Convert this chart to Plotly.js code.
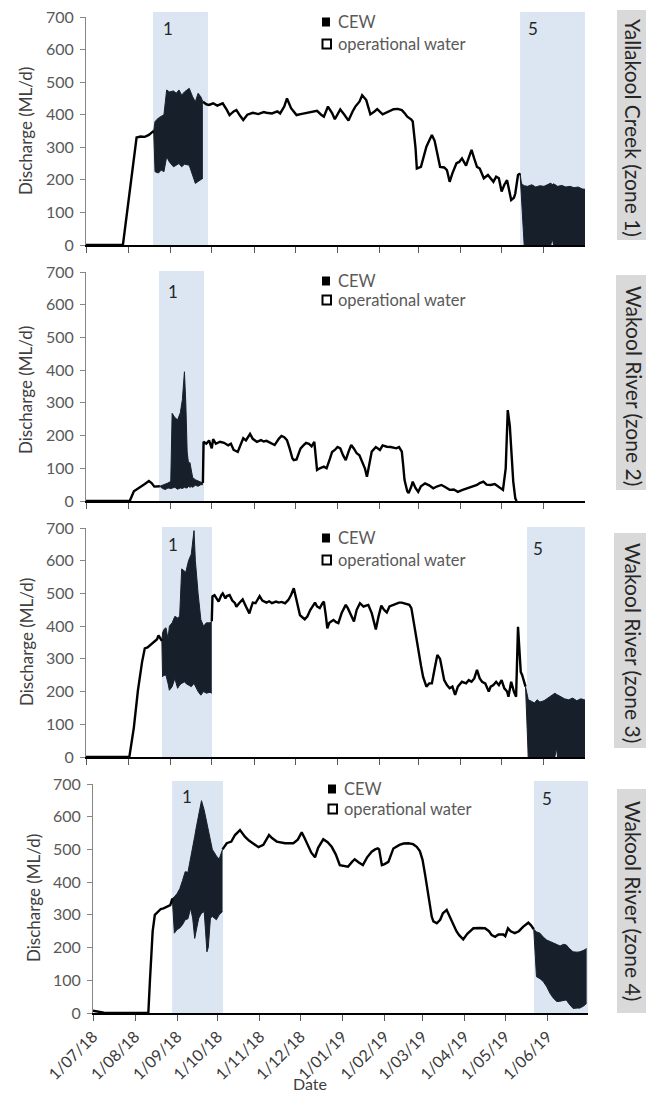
<!DOCTYPE html>
<html><head><meta charset="utf-8">
<script src="https://cdn.plot.ly/plotly-3.0.1.min.js"></script>
<style>html,body{margin:0;padding:0;background:#fff;}#chart{width:646px;height:1095px;}</style>
</head><body><div id="chart"></div>
<script>
// ---------- DATA (days since 1 Jul 2018, discharge ML/d) ----------
const tickDates = ['2018-07-01','2018-08-01','2018-09-01','2018-10-01','2018-11-01','2018-12-01','2019-01-01','2019-02-01','2019-03-01','2019-04-01','2019-05-01','2019-06-01'];
const tickLabels = ['1/07/18','1/08/18','1/09/18','1/10/18','1/11/18','1/12/18','1/01/19','1/02/19','1/03/19','1/04/19','1/05/19','1/06/19'];
const panelNames = ['Yallakool Creek (zone 1)','Wakool River (zone 2)','Wakool River (zone 3)','Wakool River (zone 4)'];
const legendNames = ['CEW','operational water'];
const yTitle = 'Discharge (ML/d)';
const xTitle = 'Date';

// Yallakool Creek (zone 1)
const yk_days = [0,27,37,40,43,46,48,49.5,null,85.5,88,90,93,96,100,103,105,108,110,113,115,118,122,126,130,132,136,140,142,145,147,150,154,157,161,165,169,172,174,177,180,182,186,189,192,195,197,200,202,205,208,211,213,217,221,225,228,231,233,235,238,239,241,242,245,247,249,251,253,255,256,259,262,264,266,268,271,273,275,278,280,282,284,286,288,291,294,296,298,300,302,304,306,308,310,311,313,314,316,317.5];
const yk_flow = [0,0,330,333,332,338,345,350,null,440,432,430,435,428,435,415,399,410,414,395,384,400,406,402,408,406,404,410,404,425,450,420,399,402,406,410,412,400,394,425,405,386,416,400,382,410,425,440,460,445,401,410,417,401,410,417,418,414,405,394,385,379,300,235,240,270,302,320,338,320,302,240,238,230,194,220,251,255,266,244,268,292,265,240,235,205,215,205,194,210,205,164,185,199,160,138,145,158,215,220];
const yk_c1_days = [49.5,50.5,53,55,57,59,61,64,66,68,70,72,75.5,78,80,82,84,85.5];
const yk_c1_hi = [350,379,390,394,400,476,470,473,466,476,460,470,481,455,440,466,455,440];
const yk_c1_lo = [350,225,221,230,225,271,255,240,245,250,240,248,245,215,189,195,200,205];
const yk_c5_days = [317.5,318.5,319.5,320.5,323,326,329,332,335,338,340,341,342,345,348,351,354,357,360,363,365];
const yk_c5_hi = [220,190,185,182,180,185,178,182,180,186,190,185,188,180,183,178,180,176,178,172,171];
const yk_c5_lo = [220,140,40,0,0,0,0,0,0,0,0,20,0,0,0,0,0,0,0,0,0];

// Wakool River (zone 2)
const wk2_days = [0,32,35,37,40,43,46,48,50,52,54,null,85.5,86,88,90,92,93,95,98,101,104,106,108,111,113,115,117,120,122,125,128,130,132,135,138,141,143,145,147,149,151,152,154,156,157,159,161,163,165,167,168,169,171,174,176,177,178.5,180,182,184,186,188,190,192,194,196,198,200,202,204,205.5,207,209,212,215,217,220,223,227,229,231,232,233,235,236,238,239,241,243,245,248,251,254,257,260,263,266,269,272,275,279,282,286,288,290.7,293,296,299,302,305,307,308.5,310,311,312.5,314,315];
const wk2_flow = [0,0,30,35,45,52,61,55,44,45,45,null,55,181,175,185,161,189,175,181,178,170,175,156,150,170,192,185,205,190,181,186,182,184,178,171,190,199,195,186,160,130,125,127,150,161,170,178,175,167,181,140,95,100,105,100,110,130,150,156,165,161,140,125,150,171,160,146,140,120,100,74,110,151,165,156,170,166,165,161,165,151,110,64,30,24,45,59,40,28,45,54,48,39,45,49,42,34,35,28,33,39,45,49,55,59,50,49,52,44,34,100,278,230,166,60,8,0];
const wk2_c1_days = [54,56,58,60,62,63,65,67,69,70.5,72,73,74,75,76,77,78,80,82,84,85.5];
const wk2_c1_hi = [45,48,50,55,60,268,255,248,270,310,395,300,150,115,118,90,72,65,62,58,55];
const wk2_c1_lo = [45,38,35,40,38,40,42,36,40,38,42,40,40,45,42,44,42,48,45,50,50];

// Wakool River (zone 3)
const wk3_days = [0,31.7,35,38,41,43,45,48,50,52,53,54,55.5,null,92,92.5,94,96,97,99,100,102,103,105,107,109,110,112,114.6,117,119.5,121,122,124,127,129,132,134,136,139,141,143,145.6,148,150,152,154,156.5,158,160,162,164,166,167.5,169,171,173,174,175.5,176.5,178,181,183,184.6,187,190,191.5,193,196,198,200.4,203,206.5,209,212,214,216,218,220,222,224.8,227,229,231,233,236.5,238,239,241,243,245,246.6,249,251,253,255,257,259,260,262,264,266,268,270,272,275,278,280,282,284,286,288,289.7,292,294.6,296,298,300,302,304,306,308,309,311,313,314.6,316,317,318,319,320,321.5];
const wk3_flow = [0,0,90,204,290,332,335,345,352,360,372,365,355,null,415,491,495,480,475,495,500,485,492,495,478,470,459,470,482,460,439,460,472,470,492,478,472,476,470,475,472,474,470,480,495,516,480,434,428,421,430,449,462,472,460,455,470,475,430,393,410,419,412,409,440,465,455,441,414,450,470,460,465,440,390,430,463,450,442,460,465,470,472,472,470,465,455,429,380,332,280,245,215,225,225,270,312,300,280,235,220,210,215,190,215,230,225,235,230,240,266,240,230,225,200,215,220,230,220,235,210,200,184,230,200,184,398,320,260,251,235,215];
const wk3_c1_days = [55.5,56,57,58.5,60,61,63,65,67,68.5,70,72,73,75,77,79,80,82,84,86,88,90.7,92];
const wk3_c1_hi = [355,380,390,395,360,400,410,430,425,430,575,570,565,600,620,692,600,500,420,400,410,410,415];
const wk3_c1_lo = [355,245,250,250,225,204,215,240,210,220,225,230,225,220,215,225,215,200,189,200,195,198,195];
const wk3_c5_days = [321.5,322.5,323.5,326,328,330,332,335,338,341,343,344,345,347,350,353,356,359,362,365];
const wk3_c5_hi = [215,190,175,170,165,175,168,172,180,190,195,192,190,185,178,175,180,172,178,174];
const wk3_c5_lo = [215,120,0,0,0,0,0,0,0,0,0,28,0,0,0,0,0,0,0,0];

// Wakool River (zone 4)
const wk4_days = [0,4,8,20,40.8,42,43,44,45.6,48,50,52,55,57,58.5,null,95.5,96,98.6,102,104.7,108.4,112,115,117,120,122,125.6,129.8,132,135.5,141.6,147.7,151,153.9,156,158.8,161,163.7,166,169.8,173,176,179,182,185,188,191,193,196,199,202,205.5,208,210,211,213,215,217.8,221.5,226,229,232.5,236,238.7,241,243,245,247,249.8,251,253.5,256,258,260.8,263,265.7,268,270,273,276,280.5,285,289,292,294,296.5,299,302.6,304,306,308,311,314,317.3,321,323,325];
const wk4_flow = [7,4,1,0,0,100,200,250,300,310,318,320,325,330,350,null,500,503,519,524,544,559,539,527,521,512,507,514,544,535,524,519,519,530,552,535,508,490,476,505,531,522,508,485,452,449,447,462,470,460,452,475,493,500,503,500,452,455,462,503,514,518,519,516,508,495,468,420,366,294,280,274,285,305,315,295,269,250,238,225,242,259,260,259,250,238,233,240,240,235,259,250,244,250,264,276,268,256];
const wk4_c1_days = [58.5,60,62,64,66,68,70,72,73.5,75,76.5,78,80,82,83,84,85,86.6,88,91,93,95.5];
const wk4_c1_hi = [350,355,365,380,405,432,430,470,500,540,575,605,649,620,600,580,550,520,500,480,470,500];
const wk4_c1_lo = [350,244,255,260,270,285,288,320,290,228,260,290,305,310,250,187,200,290,295,285,300,310];
const wk4_c5_days = [325,326,327,329.6,332,334.6,337,339.5,342,344.4,347,349,351,354,357,359,362,364];
const wk4_c5_hi = [256,252,248,244,232,223,218,213,210,205,210,208,198,187,186,187,192,197];
const wk4_c5_lo = [256,180,111,105,96,80,60,45,35,36,38,40,28,14,15,15,22,30];

// watering action windows (days since 1 Jul 2018)
const actionDays = [
  [[49,89.2],[317.5,365]],
  [[53.4,86.3]],
  [[55.6,92.2],[322.6,365]],
  [[58.3,95.9],[325.2,365]]
];
const actionLabels = [['1','5'],['1'],['1','5'],['1','5']];

// ---------- BUILD ----------
const DAY0 = Date.UTC(2018,6,1);
function toDate(d){ if(d===null) return null; return new Date(DAY0 + d*86400000).toISOString().slice(0,16).replace('T',' '); }
const W = 646, H = 1095;
const X = px => px/W, Y = py => 1 - py/H;

const panels = [
  {main:[yk_days,yk_flow], cew:[[yk_c1_days,yk_c1_hi,yk_c1_lo],[yk_c5_days,yk_c5_hi,yk_c5_lo]],
   xd:[86,585], yd:[17,245], shadeTop:1.022, lab:[[168,28],[533,28]],
   leg:{sx:322, tx:336, y1:22, y2:44}, box:[617,10,240], boxText:[634,128], yt:[25,131]},
  {main:[wk2_days,wk2_flow], cew:[[wk2_c1_days,wk2_c1_hi,wk2_c1_lo]],
   xd:[86,585], yd:[272,501], shadeTop:1.004, lab:[[173,292]],
   leg:{sx:322, tx:336, y1:281, y2:300}, box:[616,275,490], boxText:[634,386], yt:[25,390]},
  {main:[wk3_days,wk3_flow], cew:[[wk3_c1_days,wk3_c1_hi,wk3_c1_lo],[wk3_c5_days,wk3_c5_hi,wk3_c5_lo]],
   xd:[86,585], yd:[528,757], shadeTop:1.004, lab:[[173,545],[538,548]],
   leg:{sx:322, tx:336, y1:538, y2:560}, box:[614,533,748], boxText:[634,643], yt:[26,642]},
  {main:[wk4_days,wk4_flow], cew:[[wk4_c1_days,wk4_c1_hi,wk4_c1_lo],[wk4_c5_days,wk4_c5_hi,wk4_c5_lo]],
   xd:[93,588], yd:[784,1013], shadeTop:1.013, lab:[[187,796],[547,798]],
   leg:{sx:328, tx:342, y1:789, y2:809}, box:[617,789,1013], boxText:[634,901], yt:[33,898]}
];

const FILL = '#17202a';
const traces = [];
const layout = {
  width: W, height: H, margin:{l:0,r:0,t:0,b:0},
  paper_bgcolor:'#fff', plot_bgcolor:'rgba(0,0,0,0)', showlegend:false,
  font:{family:'Lato, "Open Sans", sans-serif', color:'#595959'},
  shapes:[], annotations:[]
};

panels.forEach((p, i) => {
  const n = i===0 ? '' : String(i+1);
  const xa = 'x'+n, ya = 'y'+n;
  const xk = 'xaxis'+n, yk = 'yaxis'+n;
  layout[xk] = {
    type:'date', range:[toDate(0), toDate(365)], domain:[X(p.xd[0]), X(p.xd[1])], anchor:ya,
    tickmode:'array', tickvals:tickDates, ticktext:tickLabels, showticklabels: i===3,
    tickangle:-45, tickfont:{size:16, color:'#3a3a3a'},
    showgrid:false, zeroline:false, showline:true, linecolor:'#000', linewidth:2,
    ticks:'outside', ticklen:6, tickcolor:'#595959', tickwidth:1, fixedrange:true, automargin:false
  };
  layout[yk] = {
    range:[0,700], domain:[Y(p.yd[1]), Y(p.yd[0])], anchor:xa, dtick:100, tick0:0,
    tickfont:{size:16, color:'#595959'}, showgrid:false, zeroline:false,
    showline:true, linecolor:'#868686', linewidth:1, ticks:'outside', ticklen:5, tickcolor:'#868686',
    ticklabelstandoff:3, fixedrange:true, automargin:false
  };
  // shaded watering windows
  actionDays[i].forEach((w, k) => {
    layout.shapes.push({type:'rect', xref:xa, yref:ya+' domain', x0:toDate(w[0]), x1:toDate(w[1]), y0:0, y1:p.shadeTop,
      fillcolor:'#dce6f2', line:{width:0}, layer:'below'});
    layout.annotations.push({xref:'paper', yref:'paper', x:X(p.lab[k][0]), y:Y(p.lab[k][1]), text:actionLabels[i][k],
      showarrow:false, xanchor:'center', yanchor:'middle', font:{size:17, color:'#262626'}});
  });
  // CEW envelopes
  p.cew.forEach(c => {
    traces.push({x:c[0].map(toDate), y:c[2], xaxis:xa, yaxis:ya, type:'scatter', mode:'lines',
      line:{color:FILL, width:1}, hoverinfo:'skip'});
    traces.push({x:c[0].map(toDate), y:c[1], xaxis:xa, yaxis:ya, type:'scatter', mode:'lines',
      fill:'tonexty', fillcolor:FILL, line:{color:FILL, width:1}, hoverinfo:'skip'});
  });
  // total discharge line
  traces.push({x:p.main[0].map(toDate), y:p.main[1], xaxis:xa, yaxis:ya, type:'scatter', mode:'lines',
    connectgaps:false, line:{color:'#000', width:2.4}, hoverinfo:'skip'});
  // legend
  const L = p.leg;
  layout.shapes.push({type:'rect', xref:'paper', yref:'paper', x0:X(L.sx), x1:X(L.sx+8), y0:Y(L.y1+4.5), y1:Y(L.y1-4.5),
    fillcolor:'#000', line:{width:0}});
  layout.shapes.push({type:'rect', xref:'paper', yref:'paper', x0:X(L.sx+0.5), x1:X(L.sx+9), y0:Y(L.y2+4.5), y1:Y(L.y2-4.5),
    fillcolor:'#fff', line:{color:'#000', width:2}});
  layout.annotations.push({xref:'paper', yref:'paper', x:X(L.tx), y:Y(L.y1), text:legendNames[0], showarrow:false,
    xanchor:'left', yanchor:'middle', font:{size:16.5, color:'#595959'}});
  layout.annotations.push({xref:'paper', yref:'paper', x:X(L.tx), y:Y(L.y2), text:legendNames[1], showarrow:false,
    xanchor:'left', yanchor:'middle', font:{size:16.5, color:'#595959'}});
  // right-hand grey strip
  layout.shapes.push({type:'rect', xref:'paper', yref:'paper', x0:X(p.box[0]), x1:1, y0:Y(p.box[2]), y1:Y(p.box[1]),
    fillcolor:'#d9d9d9', line:{width:0}, layer:'below'});
  layout.annotations.push({xref:'paper', yref:'paper', x:X(p.boxText[0]), y:Y(p.boxText[1]), text:panelNames[i],
    textangle:90, showarrow:false, xanchor:'center', yanchor:'middle', font:{size:21, color:'#262626'}});
  // y title
  layout.annotations.push({xref:'paper', yref:'paper', x:X(p.yt[0]), y:Y(p.yt[1]), text:yTitle,
    textangle:-90, showarrow:false, xanchor:'center', yanchor:'middle', font:{size:17, color:'#404040'}});
});
layout.annotations.push({xref:'paper', yref:'paper', x:X(310), y:Y(1083), text:xTitle, showarrow:false,
  xanchor:'center', yanchor:'middle', font:{size:16, color:'#404040'}});

Plotly.newPlot('chart', traces, layout, {staticPlot:true, displayModeBar:false});
</script>
</body></html>
